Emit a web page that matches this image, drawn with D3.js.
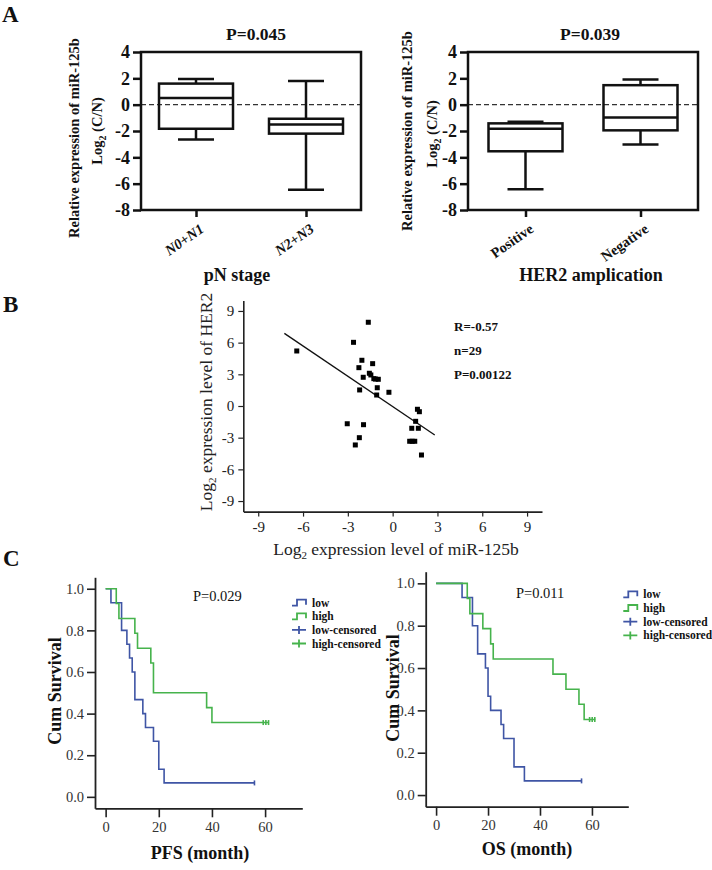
<!DOCTYPE html>
<html><head><meta charset="utf-8">
<script src="https://cdn.jsdelivr.net/npm/d3@7"></script>
<style>body{margin:0;background:#fff}svg{display:block}</style>
</head><body><svg id="c" width="712" height="870"></svg>
<script>
// ---------- DATA ----------
// Panel A: box plots
const boxYTicks = [4, 2, 0, -2, -4, -6, -8];
const pnCats = ["N0+N1", "N2+N3"];
const pnWhiskLow = [-2.65, -6.47];
const pnQ1 = [-1.83, -2.2];
const pnMedian = [0.5, -1.5];
const pnQ3 = [1.6, -1.07];
const pnWhiskHigh = [1.95, 1.8];

const herCats = ["Positive", "Negative"];
const herWhiskLow = [-6.42, -3.03];
const herQ1 = [-3.54, -1.95];
const herMedian = [-1.82, -0.98];
const herQ3 = [-1.42, 1.48];
const herWhiskHigh = [-1.29, 1.92];

// Panel B: scatter
const scatterTicks = [-9, -6, -3, 0, 3, 6, 9];
const mirX = [-6.42, -2.62, -1.63, -2.06, -2.26, -1.34, -1.56, -1.46, -1.97, -1.26, -0.96, -1.03, -2.21, -0.25, -1.07, 1.66, 1.79, -3.04, -1.95, 1.54, 1.28, 1.72, -2.23, -2.50, 1.14, 1.31, 1.48, 1.93, -1.15];
const herY = [5.21, 6.03, 7.93, 4.33, 3.63, 4.01, 3.10, 2.94, 2.72, 2.59, 2.53, 1.73, 1.52, 1.30, 1.04, -0.31, -0.54, -1.68, -1.77, -1.45, -2.11, -2.11, -3.00, -3.69, -3.34, -3.34, -3.34, -4.64, 2.55];
const fitX = [-7.25, 2.82];
const fitY = [6.88, -2.75];
const statLabels = ["R=-0.57", "n=29", "P=0.00122"];

// Panel C: Kaplan-Meier
const kmYTicks = [0, 0.2, 0.4, 0.6, 0.8, 1.0];
const kmXTicks = [0, 20, 40, 60];
const legendLabels = ["low", "high", "low-censored", "high-censored"];

const pfsLowTime = [0, 2, 6, 8, 9, 10, 11, 14, 15, 18, 20, 22, 56];
const pfsLowSurv = [1, 0.933, 0.8, 0.733, 0.667, 0.6, 0.467, 0.4, 0.333, 0.267, 0.133, 0.067, 0.067];
const pfsLowCensor = [56];
const pfsHighTime = [0, 4, 5, 11, 12, 17, 18, 38, 40, 61.3];
const pfsHighSurv = [1, 0.929, 0.857, 0.786, 0.714, 0.643, 0.5, 0.429, 0.357, 0.357];
const pfsHighCensor = [59.3, 60.3, 61.3];

const osLowTime = [0, 10, 14, 16, 19, 20, 21, 25, 26, 30, 34, 56];
const osLowSurv = [1, 0.933, 0.8, 0.667, 0.6, 0.467, 0.4, 0.333, 0.267, 0.133, 0.067, 0.067];
const osLowCensor = [56];
const osHighTime = [0, 12, 13, 18, 21, 22, 45, 50, 55, 57, 61.3];
const osHighSurv = [1, 0.929, 0.857, 0.786, 0.714, 0.643, 0.571, 0.5, 0.429, 0.357, 0.357];
const osHighCensor = [59.1, 60.1, 61.1];

// ---------- DRAW ----------
const FONT = "'Liberation Serif','Times New Roman',serif";
const INK = "#111";
const BLUE = "#3f55a5";
const GREEN = "#46b34c";
const svg = d3.select("#c");
svg.append("rect").attr("width", 712).attr("height", 870).attr("fill", "#fff");

function txt(g, x, y, s, size, opts = {}) {
  const t = g.append("text").attr("x", x).attr("y", y).text(s)
    .attr("font-family", FONT).attr("font-size", size).attr("fill", opts.fill || INK)
    .attr("font-weight", opts.bold ? "bold" : "normal")
    .attr("text-anchor", opts.anchor || "start");
  if (opts.italic) t.attr("font-style", "italic");
  return t;
}

// panel letters
txt(svg, 2, 22, "A", 23, {bold: true});
txt(svg, 3, 312, "B", 23, {bold: true});
txt(svg, 3, 566, "C", 23, {bold: true});

function boxPanel(cfg, cats, wl, q1, med, q3, wh) {
  const g = svg.append("g");
  const x = d3.scalePoint().domain(cats).range([cfg.x0, cfg.x1]).padding(0.5);
  const y = d3.scaleLinear().domain([-8, 4]).range([cfg.y1, cfg.y0]);
  // zero dashed line
  g.append("line").attr("x1", cfg.x0).attr("x2", cfg.x1).attr("y1", y(0)).attr("y2", y(0))
    .attr("stroke", "#333").attr("stroke-width", 1.4).attr("stroke-dasharray", "5,3");
  // y axis
  const ya = g.append("g").attr("transform", `translate(${cfg.x0},0)`)
    .call(d3.axisLeft(y).tickValues(boxYTicks).tickFormat(d => String(d)).tickSize(8).tickPadding(3).tickSizeOuter(0));
  ya.select(".domain").remove();
  ya.attr("font-family", FONT).attr("font-size", 18).attr("font-weight", "bold");
  ya.selectAll("line").attr("stroke", INK).attr("stroke-width", 2.5);
  ya.selectAll("text").attr("fill", INK);
  // x axis ticks
  const xa = g.append("g").attr("transform", `translate(0,${cfg.y1})`)
    .call(d3.axisBottom(x).tickSize(7).tickSizeOuter(0).tickFormat(""));
  xa.select(".domain").remove();
  xa.selectAll("line").attr("stroke", INK).attr("stroke-width", 2.5);
  cats.forEach(c => {
    txt(g, 0, 0, c, 14.5, {bold: true, italic: cfg.italic, anchor: "end"})
      .attr("transform", `translate(${x(c) + 9},${cfg.y1 + 21}) rotate(-35)`);
  });
  // boxes
  const bw = 74, cw = 36;
  cats.forEach((c, i) => {
    const cx = x(c);
    const ln = (x1, y1, x2, y2) => g.append("line").attr("x1", x1).attr("y1", y1).attr("x2", x2).attr("y2", y2).attr("stroke", INK).attr("stroke-width", 2.5);
    ln(cx, y(wh[i]), cx, y(q3[i]));
    ln(cx, y(q1[i]), cx, y(wl[i]));
    ln(cx - cw / 2, y(wh[i]), cx + cw / 2, y(wh[i]));
    ln(cx - cw / 2, y(wl[i]), cx + cw / 2, y(wl[i]));
    g.append("rect").attr("x", cx - bw / 2).attr("y", y(q3[i])).attr("width", bw).attr("height", y(q1[i]) - y(q3[i]))
      .attr("fill", "none").attr("stroke", INK).attr("stroke-width", 2.5);
    ln(cx - bw / 2, y(med[i]), cx + bw / 2, y(med[i]));
  });
  // frame
  g.append("rect").attr("x", cfg.x0).attr("y", cfg.y0).attr("width", cfg.x1 - cfg.x0).attr("height", cfg.y1 - cfg.y0)
    .attr("fill", "none").attr("stroke", INK).attr("stroke-width", 2.5);
  // title and x label
  txt(g, cfg.tx, 40, cfg.title, 17.5, {bold: true, anchor: "middle"});
  txt(g, cfg.xlx, 281, cfg.xlabel, 18, {bold: true, anchor: "middle"});
  // y labels
  txt(g, 0, 0, "Relative expression of miR-125b", 14.5, {bold: true, anchor: "middle"})
    .attr("transform", `translate(${cfg.lx1},${cfg.ly1}) rotate(-90)`);
  const t2 = txt(g, 0, 0, "", 14.5, {bold: true, anchor: "middle"})
    .attr("transform", `translate(${cfg.lx2},${cfg.ly2}) rotate(-90)`);
  t2.append("tspan").text("Log");
  t2.append("tspan").text("2").attr("font-size", 10).attr("dy", 4);
  t2.append("tspan").text(" (C/N)").attr("dy", -4);
}

boxPanel({x0: 141, x1: 361, y0: 52, y1: 210, title: "P=0.045", tx: 256, xlabel: "pN stage", xlx: 237, italic: true,
  lx1: 79, ly1: 138, lx2: 102, ly2: 131}, pnCats, pnWhiskLow, pnQ1, pnMedian, pnQ3, pnWhiskHigh);
boxPanel({x0: 468, x1: 698, y0: 52, y1: 210, title: "P=0.039", tx: 590, xlabel: "HER2 amplication", xlx: 591, italic: false,
  lx1: 412, ly1: 131, lx2: 437, ly2: 134}, herCats, herWhiskLow, herQ1, herMedian, herQ3, herWhiskHigh);

// ---------- Panel B ----------
(function () {
  const g = svg.append("g");
  const x = d3.scaleLinear().domain([-10, 10]).range([243.3, 542]);
  const y = d3.scaleLinear().domain([-10, 10]).range([511.6, 300.4]);
  const ya = g.append("g").attr("transform", `translate(${x(-10)},0)`)
    .call(d3.axisLeft(y).tickValues(scatterTicks).tickFormat(d => String(d)).tickSize(5).tickPadding(4).tickSizeOuter(0));
  const xa = g.append("g").attr("transform", `translate(0,${y(-10)})`)
    .call(d3.axisBottom(x).tickValues(scatterTicks).tickFormat(d => String(d)).tickSize(5).tickPadding(5).tickSizeOuter(0));
  [ya, xa].forEach(a => {
    a.attr("font-family", FONT).attr("font-size", 15);
    a.selectAll("line").attr("stroke", "#222").attr("stroke-width", 1.2);
    a.select(".domain").attr("stroke", "#222").attr("stroke-width", 1.6);
    a.selectAll("text").attr("fill", "#222");
  });
  // fit line
  g.append("line").attr("x1", x(fitX[0])).attr("y1", y(fitY[0])).attr("x2", x(fitX[1])).attr("y2", y(fitY[1]))
    .attr("stroke", "#111").attr("stroke-width", 1.3);
  // points
  g.selectAll("rect.pt").data(mirX.map((d, i) => [d, herY[i]])).join("rect").attr("class", "pt")
    .attr("x", d => x(d[0]) - 2.5).attr("y", d => y(d[1]) - 2.5).attr("width", 5).attr("height", 5).attr("fill", "#000");
  // stats
  statLabels.forEach((s, i) => txt(g, 454, 331 + i * 24, s, 13, {bold: true}));
  // axis labels
  const xl = txt(g, 396, 555, "", 17.5, {anchor: "middle", fill: "#222"});
  xl.append("tspan").text("Log");
  xl.append("tspan").text("2").attr("font-size", 11).attr("dy", 4);
  xl.append("tspan").text(" expression level of miR-125b").attr("dy", -4);
  const yl = txt(g, 0, 0, "", 17.5, {anchor: "middle", fill: "#222"}).attr("transform", `translate(212,402) rotate(-90)`);
  yl.append("tspan").text("Log");
  yl.append("tspan").text("2").attr("font-size", 11).attr("dy", 4);
  yl.append("tspan").text(" expression level of HER2").attr("dy", -4);
})();

// ---------- Panel C ----------
function kmPanel(cfg, low, high) {
  const g = svg.append("g");
  const x = d3.scaleLinear().domain([-4, 74]).range([cfg.x0, cfg.x1]);
  const y = d3.scaleLinear().domain([-0.055, 1.055]).range([cfg.y1, cfg.y0]);
  const ya = g.append("g").attr("transform", `translate(${cfg.x0},0)`)
    .call(d3.axisLeft(y).tickValues(kmYTicks).tickFormat(d3.format(".1f")).tickSize(8).tickPadding(3).tickSizeOuter(0));
  const xa = g.append("g").attr("transform", `translate(0,${cfg.y1})`)
    .call(d3.axisBottom(x).tickValues(kmXTicks).tickFormat(d => String(d)).tickSize(9).tickPadding(4).tickSizeOuter(0));
  [ya, xa].forEach(a => {
    a.attr("font-family", FONT).attr("font-size", 14.5);
    a.selectAll("line").attr("stroke", "#222").attr("stroke-width", 1.6);
    a.select(".domain").attr("stroke", "#222").attr("stroke-width", 1.8);
    a.selectAll("text").attr("fill", "#333");
  });
  const line = d3.line().x(d => x(d[0])).y(d => y(d[1])).curve(d3.curveStepAfter);
  [[low, BLUE], [high, GREEN]].forEach(([s, col]) => {
    g.append("path").attr("d", line(s.t.map((t, i) => [t, s.s[i]]))).attr("fill", "none")
      .attr("stroke", col).attr("stroke-width", 1.6);
    const last = s.s[s.s.length - 1];
    s.c.forEach(c => g.append("line").attr("x1", x(c)).attr("x2", x(c)).attr("y1", y(last) - 2.5).attr("y2", y(last) + 2.5)
      .attr("stroke", col).attr("stroke-width", 1.6));
  });
  txt(g, cfg.px, cfg.py, cfg.p, 14.5);
  txt(g, 0, 0, "Cum Survival", 18, {bold: true, anchor: "middle"}).attr("transform", `translate(${cfg.cx},${cfg.cy}) rotate(-90)`);
  txt(g, cfg.mx, cfg.my, cfg.xlabel, 18, {bold: true, anchor: "middle"});
  // legend
  legendLabels.forEach((l, i) => {
    const ly = cfg.ly + i * cfg.ld;
    const col = i % 2 === 0 ? BLUE : GREEN;
    if (i < 2) {
      g.append("path").attr("d", `M${cfg.lx},${ly + 3}h5v-6h9v5`).attr("fill", "none").attr("stroke", col).attr("stroke-width", 1.8);
    } else {
      g.append("path").attr("d", `M${cfg.lx},${ly}h14M${cfg.lx + 7},${ly - 4}v8`).attr("fill", "none").attr("stroke", col).attr("stroke-width", 1.8);
    }
    txt(g, cfg.lx + 20, ly + 4, l, 11.5, {bold: true});
  });
}

kmPanel({x0: 95, x1: 302.3, y0: 577.3, y1: 808.3, p: "P=0.029", px: 193, py: 601, cx: 61, cy: 691,
  mx: 200, my: 859, xlabel: "PFS (month)", lx: 292, ly: 602.7, ld: 13.6},
  {t: pfsLowTime, s: pfsLowSurv, c: pfsLowCensor}, {t: pfsHighTime, s: pfsHighSurv, c: pfsHighCensor});
kmPanel({x0: 425.7, x1: 628.3, y0: 571.7, y1: 806.7, p: "P=0.011", px: 516, py: 598, cx: 399, cy: 688,
  mx: 527, my: 855, xlabel: "OS (month)", lx: 623.3, ly: 594.3, ld: 13.7},
  {t: osLowTime, s: osLowSurv, c: osLowCensor}, {t: osHighTime, s: osHighSurv, c: osHighCensor});
</script></body></html>
